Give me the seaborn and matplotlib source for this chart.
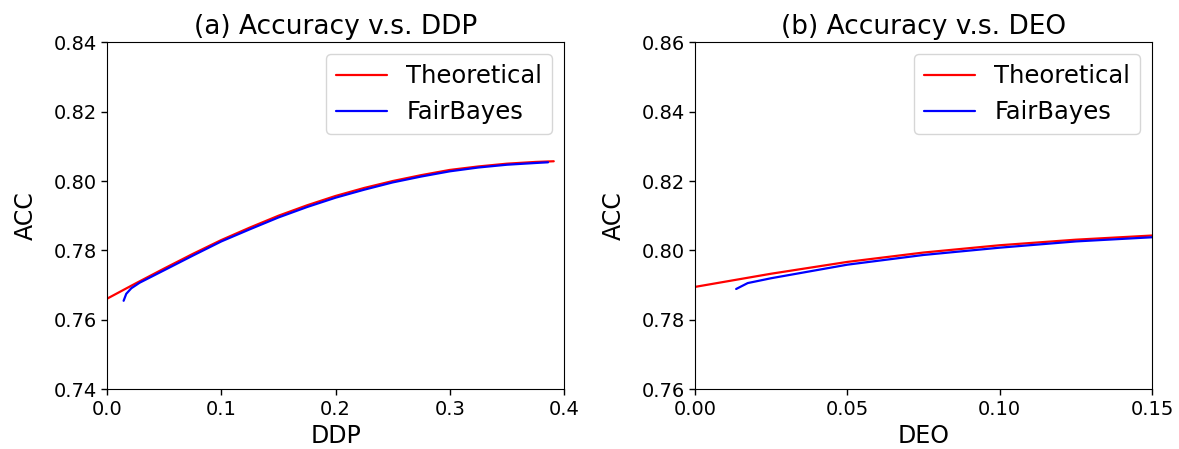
import pandas as pd
import matplotlib.pyplot as plt
import seaborn as sns

# (a) Accuracy vs DDP
ddp_theo = [0.0, 0.025, 0.05, 0.075, 0.1, 0.125, 0.15, 0.175, 0.2, 0.225, 0.25,
            0.275, 0.3, 0.325, 0.35, 0.375, 0.391]
acc_ddp_theo = [0.7661, 0.7705, 0.7748, 0.7790, 0.7830, 0.7866, 0.7900, 0.7930, 0.7957,
                0.7980, 0.8000, 0.8017, 0.8032, 0.8042, 0.8050, 0.8055, 0.8057]
ddp_fb = [0.0145, 0.0168, 0.0212, 0.0285, 0.05, 0.075, 0.1, 0.125, 0.15, 0.175, 0.2,
          0.225, 0.25, 0.275, 0.3, 0.325, 0.35, 0.375, 0.386]
acc_ddp_fb = [0.7655, 0.7675, 0.7691, 0.7707, 0.7743, 0.7785, 0.7826, 0.7861, 0.7895,
              0.7925, 0.7952, 0.7975, 0.7996, 0.8013, 0.8028, 0.8039, 0.8047, 0.8052, 0.8054]

# (b) Accuracy vs DEO
deo_theo = [0.0, 0.025, 0.05, 0.075, 0.1, 0.125, 0.15]
acc_deo_theo = [0.7895, 0.7933, 0.7967, 0.7994, 0.8015, 0.8031, 0.8043]
deo_fb = [0.0135, 0.0173, 0.025, 0.05, 0.075, 0.1, 0.125, 0.15]
acc_deo_fb = [0.7889, 0.7906, 0.7920, 0.7959, 0.7987, 0.8008, 0.8026, 0.8038]

sns.set_style('ticks', rc={'text.color': 'black', 'axes.labelcolor': 'black',
                           'xtick.color': 'black', 'ytick.color': 'black',
                           'axes.edgecolor': 'black'})
plt.rcParams['font.family'] = ['DejaVu Sans']

fig = plt.figure(figsize=(11.79, 4.49), dpi=100)
ax1 = fig.add_axes([0.0908, 0.133, 0.3876, 0.773])
ax2 = fig.add_axes([0.5895, 0.133, 0.3876, 0.773])

paneles = [
    (ax1, ddp_theo, acc_ddp_theo, ddp_fb, acc_ddp_fb, 'DDP', '(a) Accuracy v.s. DDP',
     (0.0, 0.4), (0.74, 0.84), [0.0, 0.1, 0.2, 0.3, 0.4], '{:.1f}'),
    (ax2, deo_theo, acc_deo_theo, deo_fb, acc_deo_fb, 'DEO', '(b) Accuracy v.s. DEO',
     (0.0, 0.15), (0.76, 0.86), [0.0, 0.05, 0.10, 0.15], '{:.2f}'),
]

for ax, xt, yt, xf, yf, xlab, titulo, xlim, ylim, xticks, fmt in paneles:
    sns.lineplot(x=xt, y=yt, ax=ax, color='red', linewidth=1.6,
                 label='Theoretical', sort=False, estimator=None)
    sns.lineplot(x=xf, y=yf, ax=ax, color='blue', linewidth=1.6,
                 label='FairBayes', sort=False, estimator=None)
    ax.set_xlim(*xlim)
    ax.set_ylim(*ylim)
    ax.set_xticks(xticks)
    ax.set_xticklabels([fmt.format(v) for v in xticks])
    yticks = [ylim[0] + 0.02 * i for i in range(6)]
    ax.set_yticks(yticks)
    ax.set_yticklabels(['{:.2f}'.format(v) for v in yticks])
    ax.tick_params(labelsize=14, length=4, width=1)
    ax.set_xlabel(xlab, fontsize=17, labelpad=4)
    ax.set_ylabel('ACC', fontsize=17, labelpad=11)
    ax.set_title(titulo, fontsize=19, pad=6)
    ax.legend(loc='upper right', fontsize=17.5, handlelength=2.1, frameon=True)

plt.savefig('out.png', dpi=100)
